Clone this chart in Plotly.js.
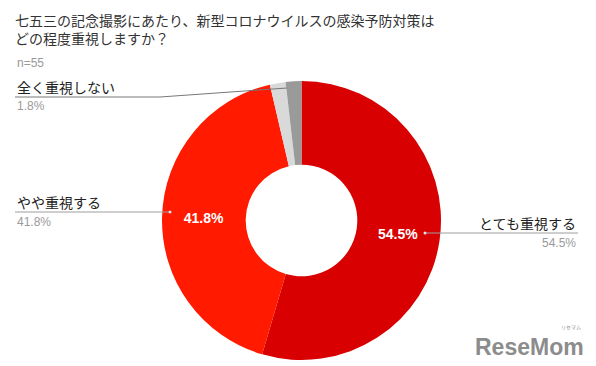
<!DOCTYPE html>
<html><head><meta charset="utf-8">
<script src="https://cdn.plot.ly/plotly-3.0.1.min.js"></script>
<style>html,body{margin:0;padding:0;background:#fff}</style>
</head><body><div id="chart" style="width:596px;height:366px"></div>
<script>
const categories = ['とても重視する', 'やや重視する', 'あまり重視しない', '全く重視しない'];
const counts = [30, 23, 1, 1];
const percentLabels = ['54.5%', '41.8%', '1.8%', '1.8%'];
const insideText = ['54.5%', '41.8%', '', ''];
const sliceColors = ['#d80000', '#ff1a00', '#d9d9d9', '#9a9a9a'];
const titleText = '七五三の記念撮影にあたり、新型コロナウイルスの感染予防対策は<br>どの程度重視しますか？';
const sampleText = 'n=55';

const W = 596, H = 366;
const px = x => x / W;
const py = y => 1 - y / H;
const JP = '"Noto Sans CJK JP", "Liberation Sans", Arial, sans-serif';
const LAT = '"Liberation Sans", Arial, sans-serif';

const trace = {
  type: 'pie',
  labels: categories,
  values: counts,
  text: insideText,
  textinfo: 'text',
  textposition: 'inside',
  insidetextorientation: 'horizontal',
  insidetextfont: {family: LAT, size: 14, color: '#ffffff', weight: 'bold'},
  hole: 0.4,
  sort: false,
  direction: 'clockwise',
  rotation: 0,
  marker: {colors: sliceColors, line: {width: 0}},
  domain: {x: [px(162), px(441)], y: [py(360), py(81)]},
  hoverinfo: 'label+percent'
};

function lbl(text, x, y, anchor, size, color, family) {
  return {text: text, x: px(x), y: py(y), xref: 'paper', yref: 'paper',
    xanchor: anchor, yanchor: 'middle', showarrow: false,
    font: {family: family || JP, size: size, color: color}};
}

const annotations = [
  {text: titleText, x: px(13), y: py(8), xref: 'paper', yref: 'paper',
   xanchor: 'left', yanchor: 'top', align: 'left', showarrow: false,
   font: {family: JP, size: 14, color: '#333333'}},
  lbl(sampleText, 15, 63, 'left', 12, '#9a9a9a', LAT),
  lbl(categories[0], 578, 223, 'right', 14, '#222222'),
  lbl(percentLabels[0], 578, 243, 'right', 12, '#9a9a9a', LAT),
  lbl(categories[1], 15, 202, 'left', 14, '#222222'),
  lbl(percentLabels[1], 15, 222, 'left', 12, '#9a9a9a', LAT),
  lbl(categories[3], 15, 87, 'left', 14, '#222222'),
  lbl(percentLabels[3], 15, 106, 'left', 12, '#9a9a9a', LAT),
  {text: '<b>ReseMom</b>', x: px(586), y: py(347), xref: 'paper', yref: 'paper',
   xanchor: 'right', yanchor: 'middle', showarrow: false,
   font: {family: LAT, size: 23, color: '#8c8c8c'}},
  {text: 'リセマム', x: px(583), y: py(327), xref: 'paper', yref: 'paper',
   xanchor: 'right', yanchor: 'middle', showarrow: false,
   font: {family: JP, size: 5, color: '#8c8c8c'}}
];

function seg(x0, y0, x1, y1, color) {
  return {type: 'line', xref: 'paper', yref: 'paper', x0: px(x0), y0: py(y0), x1: px(x1), y1: py(y1),
    line: {color: color, width: 1}};
}
function dot(x, y) {
  return {type: 'circle', xref: 'paper', yref: 'paper', x0: px(x - 1.5), x1: px(x + 1.5),
    y0: py(y + 1.5), y1: py(y - 1.5), fillcolor: '#e0e0e0', line: {width: 0}};
}
const shapes = [
  seg(425, 233, 578, 233, '#9e9e9e'),
  seg(15, 212, 170, 212, '#9e9e9e'),
  seg(15, 97, 160, 97, '#777777'),
  seg(160, 97, 287, 88, '#777777'),
  dot(425, 233),
  dot(170, 212)
];

const layout = {
  width: W, height: H,
  margin: {l: 0, r: 0, t: 0, b: 0},
  paper_bgcolor: '#ffffff',
  showlegend: false,
  annotations: annotations,
  shapes: shapes
};

Plotly.newPlot('chart', [trace], layout, {displayModeBar: false, staticPlot: true});
</script></body></html>
